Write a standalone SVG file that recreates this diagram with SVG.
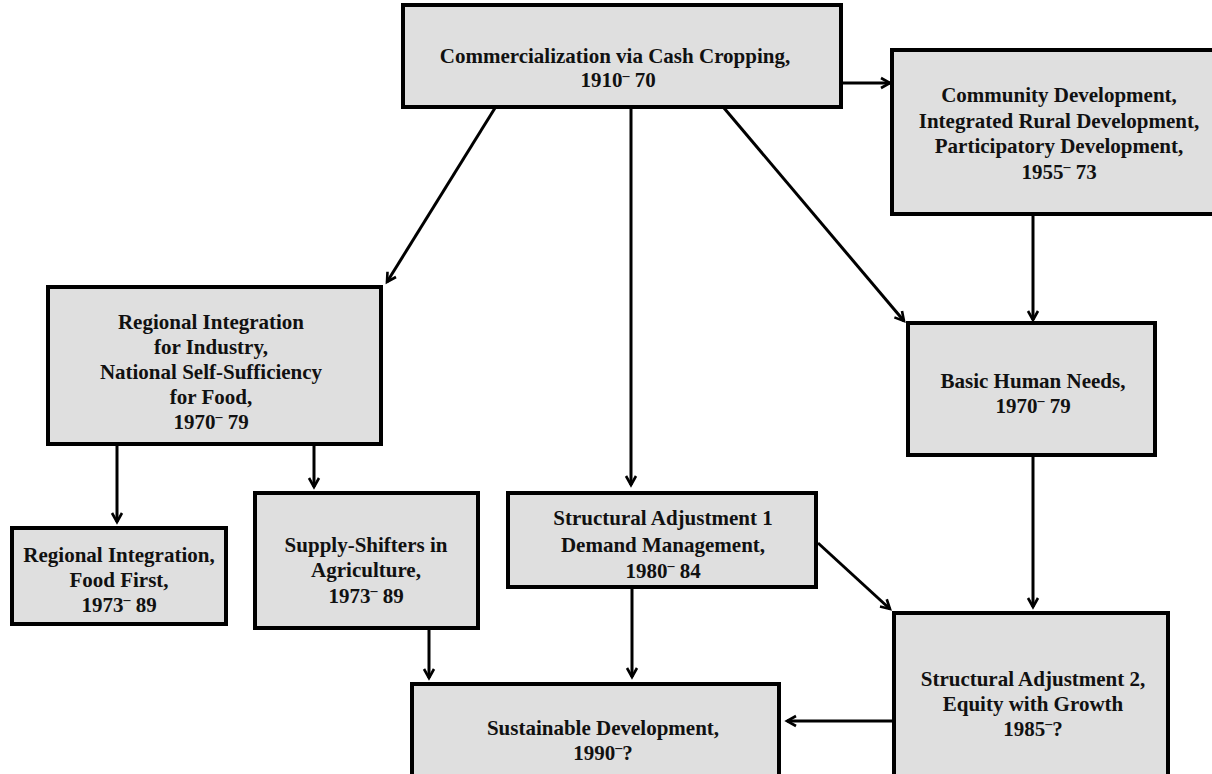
<svg xmlns="http://www.w3.org/2000/svg" width="1212" height="774" viewBox="0 0 1212 774">
<style>
.box{fill:#dfdfdf;stroke:#000;stroke-width:4}
.t{font-family:"Liberation Serif","Times New Roman",serif;font-weight:bold;font-size:21px;fill:#111;text-anchor:middle}
.d{font-size:14px;font-weight:900}
.c{stroke:#000;stroke-width:3;fill:none;marker-end:url(#ah)}
</style>
<defs>
<marker id="ah" markerUnits="userSpaceOnUse" markerWidth="14" markerHeight="14" refX="11" refY="7" orient="auto">
<path d="M2,2 L11,7 L2,12" fill="none" stroke="#000" stroke-width="2.6"/>
</marker>
</defs>
<rect width="1212" height="774" fill="#fff"/>
<g id="connectors">
<line class="c" x1="841" y1="83" x2="890" y2="83"/>
<line class="c" x1="495" y1="108" x2="387" y2="282"/>
<line class="c" x1="631" y1="108" x2="631" y2="485"/>
<line class="c" x1="724" y1="108" x2="904" y2="321"/>
<line class="c" x1="1033" y1="215" x2="1033" y2="320"/>
<line class="c" x1="117" y1="444" x2="117" y2="522"/>
<line class="c" x1="314" y1="444" x2="314" y2="487"/>
<line class="c" x1="1033" y1="455" x2="1033" y2="607"/>
<line class="c" x1="818" y1="543" x2="890" y2="609"/>
<line class="c" x1="632" y1="587" x2="632" y2="677"/>
<line class="c" x1="429" y1="628" x2="429" y2="678"/>
<line class="c" x1="894" y1="721" x2="787" y2="721"/>
</g>
<g id="n1">
<rect class="box" x="403" y="5" width="438" height="102"/>
<text class="t" x="615" y="63">Commercialization via Cash Cropping,</text>
<text class="t" x="618" y="87">1910<tspan class="d" dy="-7">–</tspan><tspan dy="7"> 70</tspan></text>
</g>
<g id="n2">
<rect class="box" x="892" y="50" width="334" height="164"/>
<text class="t" x="1059" y="102">Community Development,</text>
<text class="t" x="1059" y="128">Integrated Rural Development,</text>
<text class="t" x="1059" y="153">Participatory Development,</text>
<text class="t" x="1059" y="179">1955<tspan class="d" dy="-8">–</tspan><tspan dy="8"> 73</tspan></text>
</g>
<g id="n3">
<rect class="box" x="48" y="287" width="333" height="157"/>
<text class="t" x="211" y="329">Regional Integration</text>
<text class="t" x="211" y="354">for Industry,</text>
<text class="t" x="211" y="379">National Self-Sufficiency</text>
<text class="t" x="211" y="404">for Food,</text>
<text class="t" x="211" y="429">1970<tspan class="d" dy="-8">–</tspan><tspan dy="8"> 79</tspan></text>
</g>
<g id="n4">
<rect class="box" x="12" y="528" width="214" height="96"/>
<text class="t" x="119" y="562">Regional Integration,</text>
<text class="t" x="119" y="587">Food First,</text>
<text class="t" x="119" y="612">1973<tspan class="d" dy="-8">–</tspan><tspan dy="8"> 89</tspan></text>
</g>
<g id="n5">
<rect class="box" x="255" y="493" width="223" height="135"/>
<text class="t" x="366" y="552">Supply-Shifters in</text>
<text class="t" x="366" y="577">Agriculture,</text>
<text class="t" x="366" y="603">1973<tspan class="d" dy="-8">–</tspan><tspan dy="8"> 89</tspan></text>
</g>
<g id="n6">
<rect class="box" x="508" y="493" width="308" height="94"/>
<text class="t" x="663" y="525">Structural Adjustment 1</text>
<text class="t" x="663" y="552">Demand Management,</text>
<text class="t" x="663" y="578">1980<tspan class="d" dy="-8">–</tspan><tspan dy="8"> 84</tspan></text>
</g>
<g id="n7">
<rect class="box" x="412" y="684" width="367" height="100"/>
<text class="t" x="603" y="735">Sustainable Development,</text>
<text class="t" x="603" y="760">1990<tspan class="d" dy="-8">–</tspan><tspan dy="8">?</tspan></text>
</g>
<g id="n8">
<rect class="box" x="894" y="613" width="274" height="171"/>
<text class="t" x="1033" y="686">Structural Adjustment 2,</text>
<text class="t" x="1033" y="711">Equity with Growth</text>
<text class="t" x="1033" y="736">1985<tspan class="d" dy="-8">–</tspan><tspan dy="8">?</tspan></text>
</g>
<g id="n9">
<rect class="box" x="908" y="323" width="247" height="132"/>
<text class="t" x="1033" y="388">Basic Human Needs,</text>
<text class="t" x="1033" y="413">1970<tspan class="d" dy="-8">–</tspan><tspan dy="8"> 79</tspan></text>
</g>
</svg>
